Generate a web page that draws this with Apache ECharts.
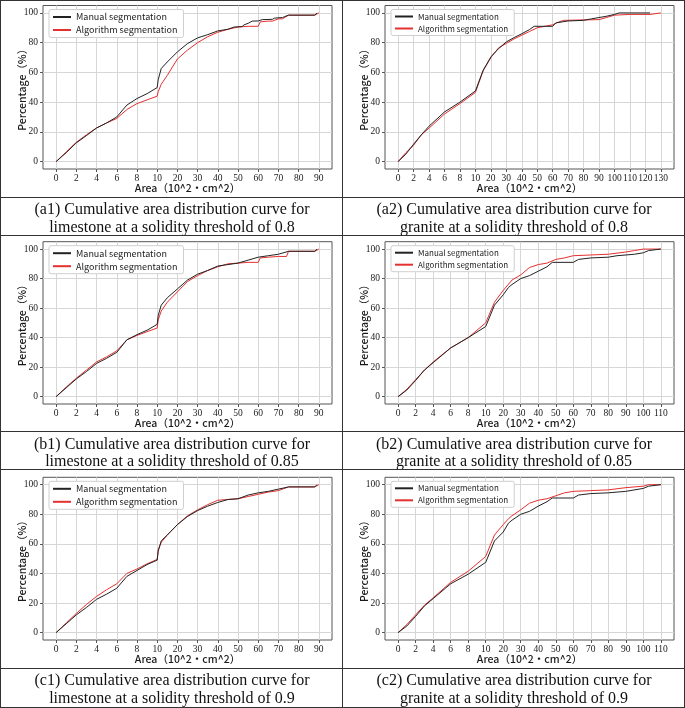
<!DOCTYPE html>
<html><head><meta charset="utf-8">
<script src="https://cdn.jsdelivr.net/npm/echarts@6/dist/echarts.min.js"></script>
<style>html,body{margin:0;padding:0;background:#fff}#c{width:685px;height:708px}</style>
</head><body><div id="c"></div>
<script>
// ---- tick labels ----
var ticks90 = [0,2,4,6,8,10,20,30,40,50,60,70,80,90];
var ticks110 = [0,2,4,6,8,10,20,30,40,50,60,70,80,90,100,110];
var ticks130 = [0,2,4,6,8,10,20,30,40,50,60,70,80,90,100,110,120,130];
var yTicks = [0,20,40,60,80,100];
var seriesNames = ['Manual segmentation','Algorithm segmentation'];
var xName = 'Area（10^2・cm^2）';
var yName = 'Percentage（%）';

// ---- (a1) limestone 0.8 ----
var a1ManualX = [0,1,2,3,4,5,6,7,8,9,10,10.5,12,15,20,25,30,35,40,45,48,52,53,55,57,60,62,67,68,72,73,75,88,89];
var a1ManualY = [0,6,12.6,17.5,22.6,26,30,38,42.4,45.7,49.8,55,62.6,67,73.8,79.4,83.2,85.4,87.9,89,90.5,90.8,92,93,94.5,94.6,95.5,95.7,96.5,96.9,97.5,98.5,98.5,100];
var a1AlgoX = [0,1,2,3,4,5,6,7,8,9,10,10.5,12,15,20,25,30,35,40,45,50,55,60,61,65,67,70,72,75,88,90];
var a1AlgoY = [0,6.5,13,18,22.6,26,29,35,39,41.5,44,47,52,58,69,75,80,84,87,89,90.5,91,91,94,94.5,94.5,96,96,98.5,98.5,100];
// ---- (a2) granite 0.8 ----
var a2ManualX = [0,1,2,3,4,6,8,10,15,20,23,25,30,35,40,45,48,60,62,70,80,85,95,100,103,123];
var a2ManualY = [0,5,11.7,18,23.8,33.4,40,47.5,61.4,70.4,73.8,76,80.5,83.4,86,88.8,91,91,93.3,94.6,95,96,97.8,99,100,100];
var a2AlgoX = [0,1,2,3,4,6,8,10,15,20,25,30,35,40,45,50,60,63,67,80,90,95,100,110,123,124,130];
var a2AlgoY = [0,6,11,18,22.5,32,39,46.5,61,70,76.5,79.5,82.5,85,87.5,90,92,93.5,95,95.3,95.5,97,98.5,99,99,100,100];
// ---- (b1) limestone 0.85 ----
var b1ManualX = [0,1,2,3,4,5,6,7,8,9,10,10.5,12,15,20,25,30,35,40,45,50,55,60,65,70,75,88,89];
var b1ManualY = [0,6,12,17,22.5,26,30,38.5,42,45,49,55,62,67,73,79,83,85.5,88.5,89.5,90.5,92.5,94.5,95.5,96.5,98.5,98.5,100];
var b1AlgoX = [0,1,2,3,4,5,6,7,8,9,10,10.5,12,15,20,25,30,35,40,45,50,55,60,61,65,70,74,75,88,90];
var b1AlgoY = [0,6.5,12.5,18,23.5,27,31,38.5,41.5,44,46.5,52,58,64,71,78,82,85.5,88,90,90.5,91,91,94,94.5,95,95,98.5,98.5,100];
// ---- (b2) granite 0.85 ----
var b2ManualX = [0,1,2,3,4,6,8,10,15,20,23,25,30,35,40,45,48,60,63,70,80,85,95,100,103,110];
var b2ManualY = [0,4.5,11,18,23,33,40,47.5,62,69,74,76,80,82,85,88,91,91,93,94,94.5,95.5,96.5,97.5,99,100];
var b2AlgoX = [0,1,2,3,4,6,8,10,15,20,25,30,35,40,45,50,55,60,70,80,90,95,100,110];
var b2AlgoY = [0,5,11.5,18,23.5,33,40,50,64,72,79,82.5,87.5,89.5,90.5,93,94,95.5,96,96.5,98,99,100,100];
// ---- (c1) limestone 0.9 ----
var c1ManualX = [0,1,2,3,4,5,6,7,8,9,10,10.5,12,15,20,25,30,35,40,45,50,55,60,65,70,75,88,89];
var c1ManualY = [0,6,12,17,22.5,26,30,38,42,46,49,55,62,66,73,78.5,82.5,85.5,88,90,90.5,93,94.5,95.5,97,98.5,98.5,100];
var c1AlgoX = [0,1,2,3,4,5,6,7,8,9,10,10.5,12,15,20,25,30,35,40,45,50,55,60,65,70,75,88,90];
var c1AlgoY = [0,6.5,13,19,24.5,29,33,40,43,46.5,49.5,56,61,66,73,79,83,86.5,89.5,90,90.5,92,93.5,95,96,98.5,98.5,100];
// ---- (c2) granite 0.9 ----
var c2ManualX = [0,1,2,3,4,6,8,10,15,20,23,25,30,35,40,45,48,60,63,70,80,90,100,103,110];
var c2ManualY = [0,4.5,11,18,23,33,39.5,47.5,62,68,74,76,80,82,85.5,88.5,91,91,93,94,94.5,95.5,97.5,99,100];
var c2AlgoX = [0,1,2,3,4,6,8,10,15,20,23,25,30,35,40,45,50,55,60,70,80,90,100,103,110];
var c2AlgoY = [0,5.5,12,18.5,23.5,34,41.5,51.5,66,73,77,79,83,87.5,89.5,90.5,92.5,94.5,95.5,96,96.5,98,99,100,100];

// ---- captions ----
var captionsA1 = ['(a1) Cumulative area distribution curve for','limestone at a solidity threshold of 0.8'];
var captionsA2 = ['(a2) Cumulative area distribution curve for','granite at a solidity threshold of 0.8'];
var captionsB1 = ['(b1) Cumulative area distribution curve for','limestone at a solidity threshold of 0.85'];
var captionsB2 = ['(b2) Cumulative area distribution curve for','granite at a solidity threshold of 0.85'];
var captionsC1 = ['(c1) Cumulative area distribution curve for','limestone at a solidity threshold of 0.9'];
var captionsC2 = ['(c2) Cumulative area distribution curve for','granite at a solidity threshold of 0.9'];

// piecewise axis: 0-10 step 2 and 10+ step 10 are equally spaced
function toPos(x){ return x <= 10 ? x / 2 : 5 + (x - 10) / 10; }
function fromPos(p){ var v = p <= 5 ? p * 2 : (p - 5) * 10 + 10; return String(Math.round(v)); }
function zip(xs, ys){ return xs.map(function(x,i){ return [toPos(x), ys[i]]; }); }

var panels = [
  {ticks:ticks90,  mx:a1ManualX, my:a1ManualY, ax:a1AlgoX, ay:a1AlgoY, left:43,  top:5.5,  h:163.5, legFont:9, cap:captionsA1, capY:[209.5,228]},
  {ticks:ticks130, mx:a2ManualX, my:a2ManualY, ax:a2AlgoX, ay:a2AlgoY, left:385, top:5.5,  h:163.5, legFont:8, cap:captionsA2, capY:[209.5,228]},
  {ticks:ticks90,  mx:b1ManualX, my:b1ManualY, ax:b1AlgoX, ay:b1AlgoY, left:43,  top:241.7,h:162.3, legFont:9, cap:captionsB1, capY:[445,462]},
  {ticks:ticks110, mx:b2ManualX, my:b2ManualY, ax:b2AlgoX, ay:b2AlgoY, left:385, top:241.7,h:162.3, legFont:8, cap:captionsB2, capY:[445,462]},
  {ticks:ticks90,  mx:c1ManualX, my:c1ManualY, ax:c1AlgoX, ay:c1AlgoY, left:43,  top:477.3,h:162.7, legFont:9, cap:captionsC1, capY:[681,698.5]},
  {ticks:ticks110, mx:c2ManualX, my:c2ManualY, ax:c2AlgoX, ay:c2AlgoY, left:385, top:477.3,h:162.7, legFont:8, cap:captionsC2, capY:[681,698.5]}
];

var MONO = '"Noto Sans CJK SC", "DejaVu Sans", sans-serif';
var SERIF = '"Liberation Serif", "DejaVu Serif", serif';
var grids = [], xAxes = [], yAxes = [], series = [], legends = [], graphics = [];

panels.forEach(function(p, i){
  var n = p.ticks.length - 1;
  var marg = n * 0.05;
  grids.push({left:p.left, top:p.top, width:289, height:p.h, show:true, borderColor:'#555', borderWidth:1, backgroundColor:'#fff', containLabel:false});
  var tp = p.ticks.map(toPos);
  xAxes.push({
    gridIndex:i, type:'value', min:-marg, max:n + marg,
    axisLine:{show:false, onZero:false},
    axisTick:{show:true, length:3, customValues:tp, lineStyle:{color:'#555'}},
    axisLabel:{customValues:tp, formatter:function(v){ return fromPos(v); }, fontFamily:SERIF, fontSize:9.5, color:'#1a1a1a', margin:4, interval:0, hideOverlap:false},
    splitLine:{show:true, lineStyle:{color:'#d6d6d6', width:1}},
    name:xName, nameLocation:'middle', nameGap:14, nameMoveOverlap:false,
    nameTextStyle:{fontFamily:MONO, fontSize:10.5, color:'#1a1a1a', fontWeight:500}
  });
  yAxes.push({
    gridIndex:i, type:'value', min:-5, max:105,
    axisLine:{show:false, onZero:false},
    axisTick:{show:true, length:3, customValues:yTicks, lineStyle:{color:'#555'}},
    axisLabel:{customValues:yTicks, fontFamily:SERIF, fontSize:9.5, color:'#1a1a1a', margin:5},
    splitLine:{show:true, lineStyle:{color:'#d6d6d6', width:1}},
    name:yName, nameLocation:'middle', nameGap:16, nameMoveOverlap:false,
    nameTextStyle:{fontFamily:MONO, fontSize:10.5, color:'#1a1a1a', fontWeight:500}
  });
  series.push({name:seriesNames[0], type:'line', xAxisIndex:i, yAxisIndex:i, data:zip(p.mx, p.my), symbol:'none', z:3,
    lineStyle:{color:'#222', width:1}, itemStyle:{color:'#222'}});
  series.push({name:seriesNames[1], type:'line', xAxisIndex:i, yAxisIndex:i, data:zip(p.ax, p.ay), symbol:'none', z:2,
    lineStyle:{color:'#e53030', width:1}, itemStyle:{color:'#e53030'}});
  legends.push({data:seriesNames, orient:'vertical', left:p.left + 6, top:p.top + 4, itemWidth:18, itemHeight:8, itemGap:4,
    padding:[3,6,3,3], backgroundColor:'#fff', borderColor:'#cfcfcf', borderWidth:1, borderRadius:2,
    itemStyle:{color:'transparent', borderColor:'transparent', borderWidth:0, opacity:0},
    textStyle:{fontFamily:MONO, fontSize:p.legFont, color:'#222'}, selectedMode:false});
  var cx = i % 2 === 0 ? 172 : 514;
  p.cap.forEach(function(t, k){
    graphics.push({type:'text', x:cx, y:p.capY[k], style:{text:t, textAlign:'center', textVerticalAlign:'middle', font:'16px ' + SERIF, fill:'#111'}});
  });
});

// table borders
var lineStyle = {stroke:'#333', lineWidth:1};
[0.5, 197.5, 235.5, 431.5, 469.5, 668.5, 707.5].forEach(function(y){
  graphics.push({type:'line', shape:{x1:0, y1:y, x2:685, y2:y}, style:lineStyle, z:100});
});
[0.5, 342.5, 684.5].forEach(function(x){
  graphics.push({type:'line', shape:{x1:x, y1:0, x2:x, y2:708}, style:lineStyle, z:100});
});

var chart = echarts.init(document.getElementById('c'));
chart.setOption({
  animation:false,
  grid:grids, xAxis:xAxes, yAxis:yAxes, series:series, legend:legends,
  graphic:graphics
});
</script></body></html>
